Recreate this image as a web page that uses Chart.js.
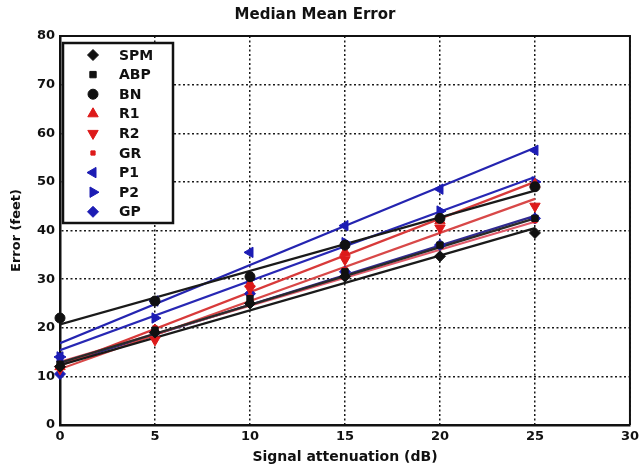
<!DOCTYPE html>
<html>
<head>
<meta charset="utf-8">
<script src="https://cdn.jsdelivr.net/npm/chart.js@4.4.0/dist/chart.umd.min.js"></script>
<style>
  html, body { margin: 0; padding: 0; background: #fff; }
  #wrap { width: 643px; height: 467px; }
</style>
</head>
<body>
<div id="wrap"><canvas id="chart" width="643" height="467"></canvas></div>
<script>
// attenuation steps (dB)
const xValues = [0, 5, 10, 15, 20, 25];
const seriesNames = ['SPM', 'ABP', 'BN', 'R1', 'R2', 'GR', 'P1', 'P2', 'GP'];

// measured median errors (feet)
const spm = [12, 19, 25, 30.5, 34.7, 39.5];
const abp = [12.5, 19.5, 26, 31.5, 37, 42.5];
const bn  = [22, 25.5, 30.5, 37, 42.5, 49];
const r1  = [12, 19.5, 29, 35.5, 42, 49.5];
const r2  = [11.5, 17.5, 28, 34, 40.5, 45];
const gr  = [12.5, 20, 26.5, 32, 37, 42];
const p1  = [14, 25.5, 35.5, 41, 48.5, 56.5];
const p2  = [14, 22, 30, 37.5, 44, 50];
const gp  = [10.5, 19, 27, 31.5, 37, 42.5];

// fitted lines, read at x = 0 and x = 25
const fitX = [0, 25];
const fitStart = [12.3, 12.8, 20.7, 12.2, 11.5, 13, 16.8, 15.4, 12.5];
const fitEnd   = [40.5, 42.5, 48.2, 50, 46.5, 41.8, 57, 51, 43];

const seriesValues = [spm, abp, bn, r1, r2, gr, p1, p2, gp];

const BLACK = '#111111';
const RED = '#dd1a1a';
const BLUE = '#1c1cb4';
const markerColors = [BLACK, BLACK, BLACK, RED, RED, RED, BLUE, BLUE, BLUE];
const lineColors = ['#1a1a1a', '#2a2a2a', '#1a1a1a', '#d83a3a', '#d84848', '#e05a6a', '#2424b0', '#2828b4', '#302a90'];
const markerStyles = [
  { pointStyle: 'rectRot', rotation: 0, radius: 5.5 },
  { pointStyle: 'rect', rotation: 0, radius: 4.5 },
  { pointStyle: 'circle', rotation: 0, radius: 5 },
  { pointStyle: 'triangle', rotation: 0, radius: 6 },
  { pointStyle: 'triangle', rotation: 180, radius: 6 },
  { pointStyle: 'rect', rotation: 0, radius: 3 },
  { pointStyle: 'triangle', rotation: 270, radius: 6 },
  { pointStyle: 'triangle', rotation: 90, radius: 6 },
  { pointStyle: 'rectRot', rotation: 0, radius: 5.5 }
];

const datasets = [];
seriesNames.forEach((name, i) => {
  datasets.push({
    label: name + ' fit',
    data: fitX.map((x, k) => ({ x: x, y: k === 0 ? fitStart[i] : fitEnd[i] })),
    showLine: true,
    borderColor: lineColors[i],
    borderWidth: 2.2,
    pointRadius: 0,
    order: 2
  });
  datasets.push({
    label: name,
    data: xValues.map((x, k) => ({ x: x, y: seriesValues[i][k] })),
    showLine: false,
    clip: false,
    pointStyle: markerStyles[i].pointStyle,
    rotation: markerStyles[i].rotation,
    pointRadius: markerStyles[i].radius,
    backgroundColor: markerColors[i],
    borderColor: markerColors[i],
    borderWidth: 1,
    order: 1
  });
});

const boxAndLegend = {
  id: 'boxAndLegend',
  afterDraw(chart) {
    const ctx = chart.ctx;
    const a = chart.chartArea;
    ctx.save();
    ctx.strokeStyle = '#111';
    ctx.lineWidth = 2;
    ctx.beginPath();
    ctx.moveTo(a.left, a.top);
    ctx.lineTo(a.right, a.top);
    ctx.lineTo(a.right, a.bottom);
    ctx.stroke();

    // legend box
    const lx = 63, ly = 43, lw = 110, lh = 180;
    ctx.fillStyle = '#fff';
    ctx.fillRect(lx, ly, lw, lh);
    ctx.lineWidth = 2.5;
    ctx.strokeStyle = '#111';
    ctx.strokeRect(lx, ly, lw, lh);
    ctx.font = 'bold 14px "DejaVu Sans"';
    ctx.textBaseline = 'middle';
    ctx.textAlign = 'left';
    seriesNames.forEach((name, i) => {
      const y = 55 + i * 19.6;
      ctx.fillStyle = markerColors[i];
      ctx.strokeStyle = markerColors[i];
      ctx.lineWidth = 1;
      Chart.helpers.drawPoint(ctx, {
        pointStyle: markerStyles[i].pointStyle,
        rotation: markerStyles[i].rotation,
        radius: markerStyles[i].radius,
        borderWidth: 1
      }, 93, y);
      ctx.fillStyle = '#111';
      ctx.fillText(name, 119, y + 1);
    });
    ctx.restore();
  }
};

new Chart(document.getElementById('chart'), {
  type: 'scatter',
  data: { datasets: datasets },
  plugins: [boxAndLegend],
  options: {
    responsive: false,
    animation: false,
    layout: { padding: { left: 0, right: 13, top: 0, bottom: 0 } },
    plugins: {
      legend: { display: false },
      tooltip: { enabled: false },
      title: {
        display: true,
        text: 'Median Mean Error',
        color: '#111',
        font: { family: 'DejaVu Sans', size: 15, weight: 'bold' },
        padding: { top: 6, bottom: 12 }
      }
    },
    scales: {
      x: {
        type: 'linear',
        position: 'bottom',
        min: 0,
        max: 30,
        afterFit: (scale) => { scale.height = 42; },
        ticks: {
          stepSize: 5,
          color: '#111',
          padding: 4,
          font: { family: 'DejaVu Sans', size: 13, weight: 'bold' }
        },
        grid: { color: '#1a1a1a', lineWidth: 1.5, drawTicks: false },
        border: { display: true, color: '#111', width: 2.5, dash: [2, 2.5] },
        title: {
          display: true,
          text: 'Signal attenuation (dB)',
          color: '#111',
          font: { family: 'DejaVu Sans', size: 14, weight: 'bold' },
          padding: { top: 0, bottom: 1 }
        }
      },
      y: {
        type: 'linear',
        min: 0,
        max: 80,
        afterFit: (scale) => { scale.width = 60; },
        ticks: {
          stepSize: 10,
          color: '#111',
          padding: 5,
          font: { family: 'DejaVu Sans', size: 13, weight: 'bold' }
        },
        grid: { color: '#1a1a1a', lineWidth: 1.5, drawTicks: false },
        border: { display: true, color: '#111', width: 2.5, dash: [2, 2.5] },
        title: {
          display: true,
          text: 'Error (feet)',
          color: '#111',
          font: { family: 'DejaVu Sans', size: 13, weight: 'bold' },
          padding: { top: 9, bottom: 0 }
        }
      }
    }
  }
});
</script>
</body>
</html>
